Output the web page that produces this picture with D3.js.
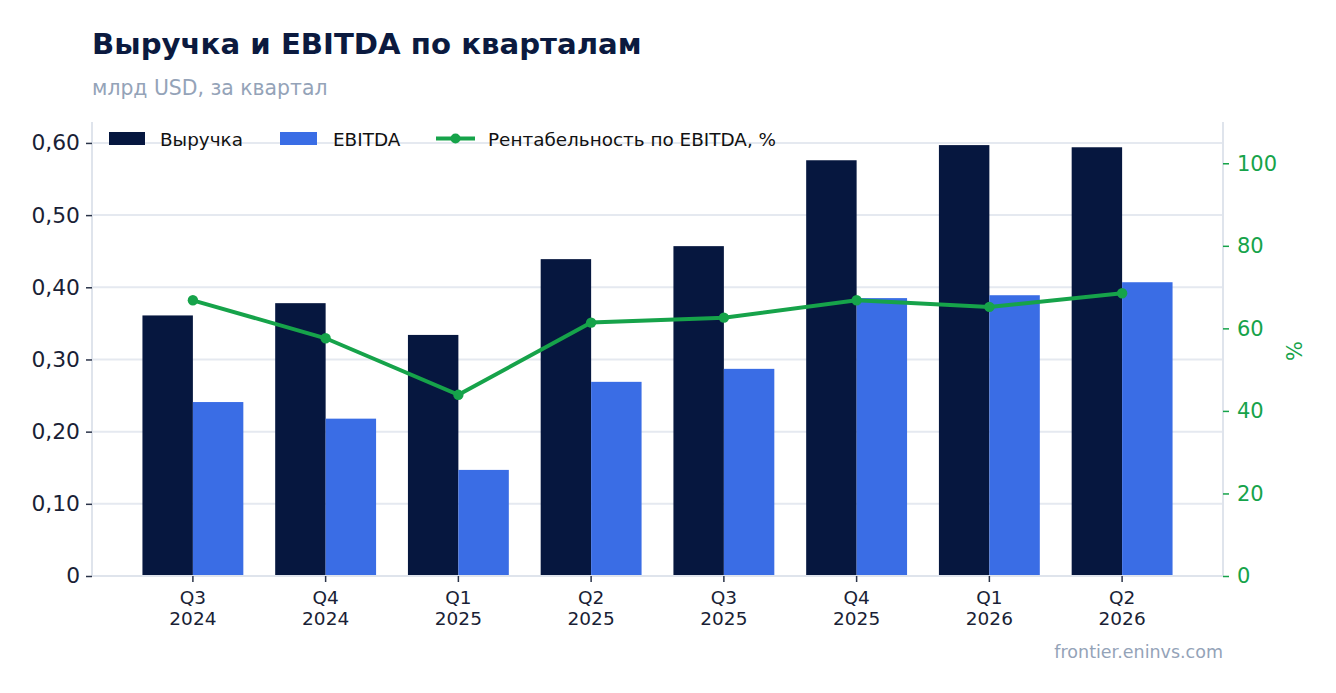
<!DOCTYPE html>
<html>
<head>
<meta charset="utf-8">
<script src="https://cdn.jsdelivr.net/npm/d3@7"></script>
<style>
  body { margin: 0; background: #fff; font-family: "DejaVu Sans", sans-serif; }
  svg { display: block; }
</style>
</head>
<body>
<div id="chart"></div>
<script>
const quarters = ['Q3|2024', 'Q4|2024', 'Q1|2025', 'Q2|2025', 'Q3|2025', 'Q4|2025', 'Q1|2026', 'Q2|2026'];
const revenue = [0.361, 0.378, 0.334, 0.439, 0.457, 0.576, 0.597, 0.594];
const ebitda = [0.241, 0.218, 0.147, 0.269, 0.287, 0.385, 0.389, 0.407];
const margin = [66.8, 57.6, 43.9, 61.4, 62.6, 66.8, 65.2, 68.5];
const leftTicks = [0, 0.1, 0.2, 0.3, 0.4, 0.5, 0.6];
const leftTickLabels = ['0', '0,10', '0,20', '0,30', '0,40', '0,50', '0,60'];
const rightTicks = [0, 20, 40, 60, 80, 100];

const w = 1336;
const h = 693;
const plot = {left: 92, right: 1223, top: 122, bottom: 576};

const colRev = '#06173f';
const colEb = '#3a6de5';
const colGreen = '#16a34a';
const gridCol = '#e5e9f0';

const svg = d3.select('#chart')
    .append('svg')
    .attr('width', w)
    .attr('height', h);

const x = d3.scaleBand()
    .domain(quarters)
    .range([plot.left, plot.right])
    .paddingInner(0.24)
    .paddingOuter(0.38);

const xSub = d3.scaleBand()
    .domain(['rev', 'eb'])
    .range([0, x.bandwidth()]);

const y = d3.scaleLinear()
    .domain([0, 0.629])
    .range([plot.bottom, plot.top]);

const y2 = d3.scaleLinear()
    .domain([0, 110])
    .range([plot.bottom, plot.top]);

// title
svg.append('text')
    .attr('x', 92).attr('y', 54)
    .text('Выручка и EBITDA по кварталам')
    .style('font-size', '29.2px')
    .style('font-weight', 'bold')
    .style('fill', '#0b1a3f');

svg.append('text')
    .attr('x', 92).attr('y', 95)
    .text('млрд USD, за квартал')
    .style('font-size', '20.4px')
    .style('fill', '#94a3b8');

// grid
svg.append('g')
    .selectAll('line')
    .data(leftTicks.slice(1))
    .enter()
    .append('line')
    .attr('x1', plot.left).attr('x2', plot.right)
    .attr('y1', d => y(d)).attr('y2', d => y(d))
    .attr('stroke', gridCol)
    .attr('stroke-width', 2);

// bars
const groups = svg.append('g')
    .selectAll('g')
    .data(quarters)
    .enter()
    .append('g')
    .attr('transform', d => `translate(${x(d)},0)`);

groups.append('rect')
    .attr('x', xSub('rev'))
    .attr('width', xSub.bandwidth())
    .attr('y', (d, i) => y(revenue[i]))
    .attr('height', (d, i) => plot.bottom - y(revenue[i]))
    .attr('fill', colRev);

groups.append('rect')
    .attr('x', xSub('eb'))
    .attr('width', xSub.bandwidth())
    .attr('y', (d, i) => y(ebitda[i]))
    .attr('height', (d, i) => plot.bottom - y(ebitda[i]))
    .attr('fill', colEb);

// axes
const leftAxis = svg.append('g')
    .attr('transform', `translate(${plot.left},0)`)
    .call(d3.axisLeft(y).tickValues(leftTicks).tickFormat((d, i) => leftTickLabels[i]).tickSize(6).tickPadding(6));
leftAxis.select('.domain').attr('stroke', '#dfe4ec').attr('stroke-width', 2)
    .attr('d', `M0,${plot.top}V${plot.bottom}`);
leftAxis.selectAll('.tick line').attr('stroke', '#2a3348').attr('stroke-width', 1.5);
leftAxis.selectAll('.tick text').style('font-size', '21.8px').style('fill', '#1a1f36').style('font-family', '"DejaVu Sans", sans-serif');

const rightAxis = svg.append('g')
    .attr('transform', `translate(${plot.right},0)`)
    .call(d3.axisRight(y2).tickValues(rightTicks).tickSize(6).tickPadding(8));
rightAxis.select('.domain').attr('stroke', '#dfe4ec').attr('stroke-width', 2)
    .attr('d', `M0,${plot.top}V${plot.bottom}`);
rightAxis.selectAll('.tick line').attr('stroke', colGreen).attr('stroke-width', 1.5);
rightAxis.selectAll('.tick text').style('font-size', '21px').style('fill', colGreen).style('font-family', '"DejaVu Sans", sans-serif');

svg.append('text')
    .attr('transform', 'translate(1302,351) rotate(-90)')
    .attr('text-anchor', 'middle')
    .text('%')
    .style('font-size', '21px')
    .style('fill', colGreen);

const bottomAxis = svg.append('g')
    .attr('transform', `translate(0,${plot.bottom})`)
    .call(d3.axisBottom(x).tickSize(6).tickPadding(9));
bottomAxis.select('.domain').attr('stroke', '#dfe4ec').attr('stroke-width', 2)
    .attr('d', `M${plot.left},0H${plot.right}`);
bottomAxis.selectAll('.tick line').attr('stroke', '#2a3348').attr('stroke-width', 1.5);
bottomAxis.selectAll('.tick text').each(function(d) {
    const parts = d.split('|');
    const t = d3.select(this).text(null)
        .style('font-size', '18.5px').style('fill', '#1a1f36')
        .style('font-family', '"DejaVu Sans", sans-serif');
    t.append('tspan').attr('x', 0).attr('dy', '0.71em').text(parts[0]);
    t.append('tspan').attr('x', 0).attr('dy', '1.15em').text(parts[1]);
});

// margin line
const line = d3.line()
    .x((d, i) => x(quarters[i]) + x.bandwidth() / 2)
    .y(d => y2(d));

svg.append('path')
    .datum(margin)
    .attr('d', line)
    .attr('fill', 'none')
    .attr('stroke', colGreen)
    .attr('stroke-width', 4);

svg.append('g')
    .selectAll('circle')
    .data(margin)
    .enter()
    .append('circle')
    .attr('cx', (d, i) => x(quarters[i]) + x.bandwidth() / 2)
    .attr('cy', d => y2(d))
    .attr('r', 5.2)
    .attr('fill', colGreen);

// legend
const legend = svg.append('g').style('font-size', '18.4px').style('fill', '#111');
legend.append('rect').attr('x', 109).attr('y', 132).attr('width', 36).attr('height', 13).attr('fill', colRev);
legend.append('text').attr('x', 160).attr('y', 145.5).text('Выручка');
legend.append('rect').attr('x', 280).attr('y', 132).attr('width', 37).attr('height', 13).attr('fill', colEb);
legend.append('text').attr('x', 333).attr('y', 145.5).text('EBITDA');
legend.append('line').attr('x1', 436).attr('x2', 475).attr('y1', 138.5).attr('y2', 138.5)
    .attr('stroke', colGreen).attr('stroke-width', 4);
legend.append('circle').attr('cx', 455.5).attr('cy', 138.5).attr('r', 5).attr('fill', colGreen);
legend.append('text').attr('x', 488).attr('y', 145.5).text('Рентабельность по EBITDA, %');

// watermark
svg.append('text')
    .attr('x', plot.right).attr('y', 658)
    .attr('text-anchor', 'end')
    .text('frontier.eninvs.com')
    .style('font-size', '17.5px')
    .style('fill', '#94a3b8');
</script>
</body>
</html>
